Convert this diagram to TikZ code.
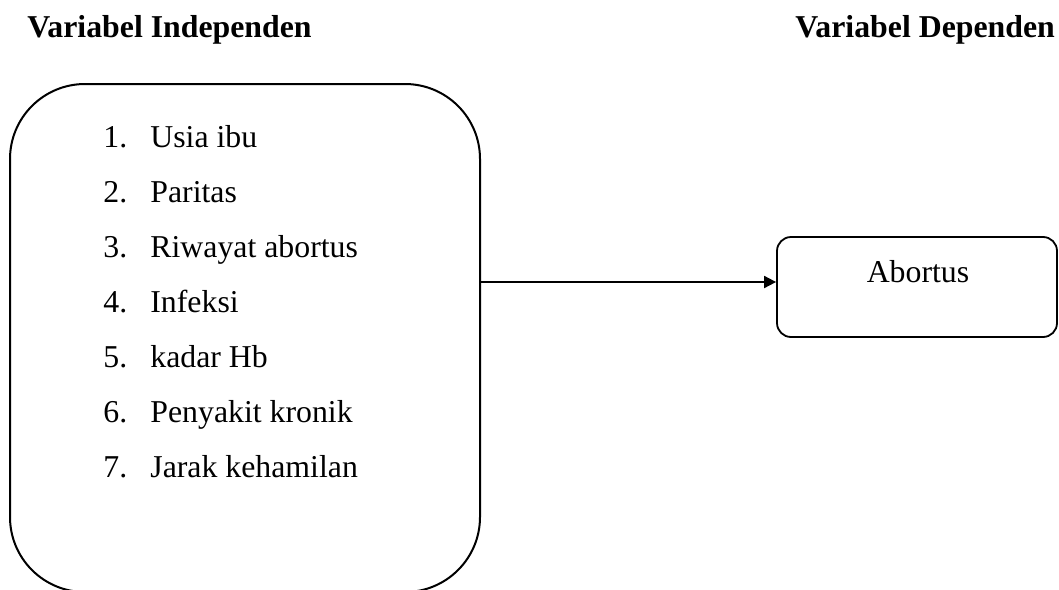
\documentclass[tikz,border=0pt]{standalone}
\usepackage{fontspec}
\setmainfont{Liberation Serif}
\usetikzlibrary{arrows.meta}
\tikzset{
  txt/.style={inner sep=0pt, anchor=base west, font=\fontsize{15.9}{18}\selectfont},
  head/.style={inner sep=0pt, anchor=base west, font=\fontsize{15.9}{18}\selectfont\bfseries},
  bigbox/.style={draw, line width=1pt, rounded corners=37.5pt, minimum width=235pt, minimum height=254pt, inner sep=0pt},
  smallbox/.style={draw, line width=0.9pt, rounded corners=7pt, minimum width=140pt, minimum height=50pt, inner sep=0pt},
  arr/.style={line width=0.9pt, -{Triangle[length=6pt,width=6pt]}}
}
\begin{document}
\begin{tikzpicture}[x=0.5pt,y=-0.5pt]
\useasboundingbox (0,0) rectangle (1059,589);
\node[head] (h1) at (27,37) {Variabel Independen};
\node[head] (h2) at (795,37) {Variabel Dependen};
\begin{scope}
\clip (0,0) rectangle (1059,589);
\node[bigbox] (ind) at (245,338) {};
\end{scope}
\node[smallbox] (dep) at (917,287) {};
\node[txt, anchor=base] (ab) at (918,282) {Abortus};
\foreach \i/\t [count=\k from 0] in {1/Usia ibu,2/Paritas,3/Riwayat abortus,4/Infeksi,5/kadar Hb,6/Penyakit kronik,7/Jarak kehamilan}{
  \node[txt] (n\i) at (103,147+55*\k) {\i.};
  \node[txt] (t\i) at (150,147+55*\k) {\t};
}
\coordinate (a) at (480,282);
\draw[arr] (ind.east |- a) -- (dep.west |- a);
\end{tikzpicture}
\end{document}
